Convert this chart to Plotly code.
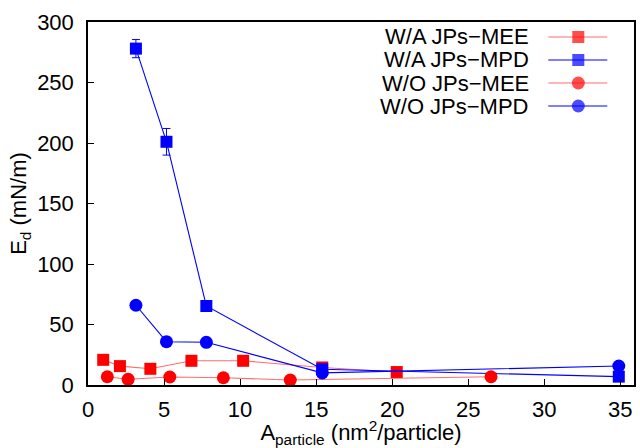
import plotly.graph_objects as go

# ---- data ----
wa_mee_x = [1.0, 2.1, 4.1, 6.8, 10.2, 15.4, 20.3]
wa_mee_y = [20.8, 15.6, 13.4, 20.0, 20.0, 14.5, 10.7]

wa_mpd_x = [3.15, 5.16, 7.78, 15.4, 34.9]
wa_mpd_y = [278.0, 201.0, 65.3, 13.0, 6.9]
wa_mpd_err = [7.5, 11.0, 1.5, 1.5, 3.5]

wo_mee_x = [1.27, 2.64, 5.38, 8.9, 13.3, 26.5]
wo_mee_y = [6.8, 4.7, 6.6, 6.0, 4.1, 6.8]

wo_mpd_x = [3.15, 5.16, 7.78, 15.4, 34.9]
wo_mpd_y = [65.9, 35.8, 35.3, 10.0, 15.7]

legend_names = ["W/A JPs\u2212MEE", "W/A JPs\u2212MPD", "W/O JPs\u2212MEE", "W/O JPs\u2212MPD"]
x_ticks = [0, 5, 10, 15, 20, 25, 30, 35]
y_ticks = [0, 50, 100, 150, 200, 250, 300]

RED_LINE = "rgba(255,60,60,0.75)"
RED = "#ff0000"
BLUE = "#0000ff"
FONT = "Liberation Sans, Arial, sans-serif"
FS = 22

series = [
    dict(x=wa_mee_x, y=wa_mee_y, lc=RED_LINE, mc=RED, sym="square", err=None),
    dict(x=wa_mpd_x, y=wa_mpd_y, lc=BLUE, mc=BLUE, sym="square", err=wa_mpd_err),
    dict(x=wo_mee_x, y=wo_mee_y, lc=RED_LINE, mc=RED, sym="circle", err=None),
    dict(x=wo_mpd_x, y=wo_mpd_y, lc=BLUE, mc=BLUE, sym="circle", err=None),
]

fig = go.Figure()
for s, name in zip(series, legend_names):
    tr = go.Scatter(
        x=s["x"], y=s["y"], mode="lines+markers", name=name,
        line=dict(color=s["lc"], width=1.1),
        marker=dict(symbol=s["sym"], color=s["mc"], size=12 if s["sym"] == "square" else 13,
                    line=dict(width=0)),
        showlegend=False,
    )
    if s["err"] is not None:
        tr.error_y = dict(type="data", array=s["err"], visible=True, color=BLUE,
                          thickness=1, width=4)
    fig.add_trace(tr)

# ---- manual gnuplot-style legend (text left, sample right) on an overlay axis ----
row_py = [37, 60, 83, 106]
top_px, bot_px = 22, 385
for s, name, py in zip(series, legend_names, row_py):
    yp = (bot_px - py) / (bot_px - top_px)
    fig.add_trace(go.Scatter(
        x=[0.843, 0.898, 0.951], y=[yp, yp, yp], xaxis="x2", yaxis="y2",
        mode="lines+markers", showlegend=False, hoverinfo="skip",
        line=dict(color=s["lc"], width=1.1),
        marker=dict(symbol=s["sym"], color=s["mc"], size=[0, 12 if s["sym"] == "square" else 13, 0],
                    line=dict(width=0)),
    ))
    fig.add_annotation(x=0.812, y=yp, xref="paper", yref="paper", text=name,
                       showarrow=False, xanchor="right", yanchor="middle",
                       font=dict(family=FONT, size=FS, color="black"))

axis_common = dict(
    showgrid=False, zeroline=False, showline=True, linecolor="black", linewidth=1.5,
    mirror=True, ticks="inside", ticklen=6, tickwidth=1, tickcolor="black",
    tickfont=dict(family=FONT, size=FS, color="black"),
)

fig.update_layout(
    width=640, height=448,
    margin=dict(l=88, r=4, t=22, b=63),
    paper_bgcolor="white", plot_bgcolor="white",
    showlegend=False,
    xaxis=dict(range=[0, 35.9], tickvals=x_ticks, ticklabelstandoff=4,
               title=dict(text="A<sub>particle</sub> (nm<sup>2</sup>/particle)",
                          font=dict(family=FONT, size=FS, color="black"), standoff=0),
               **axis_common),
    yaxis=dict(range=[0, 300], tickvals=y_ticks, ticklabelstandoff=8,
               title=dict(text="E<sub>d</sub> (mN/m)",
                          font=dict(family=FONT, size=FS, color="black"), standoff=4),
               **axis_common),
    xaxis2=dict(range=[0, 1], overlaying="x", visible=False, fixedrange=True),
    yaxis2=dict(range=[0, 1], overlaying="y", visible=False, fixedrange=True),
)

fig.write_html("out.html")
